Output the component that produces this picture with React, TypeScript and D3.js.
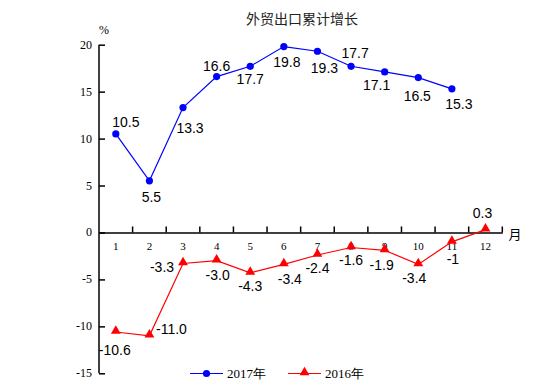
import React, { useRef, useEffect } from 'react';
import * as d3 from 'd3';

// months on the x axis
const months = ['1', '2', '3', '4', '5', '6', '7', '8', '9', '10', '11', '12'];
// cumulative export growth, %
const values2017 = [10.5, 5.5, 13.3, 16.6, 17.7, 19.8, 19.3, 17.7, 17.1, 16.5, 15.3];
const values2016 = [-10.6, -11.0, -3.3, -3.0, -4.3, -3.4, -2.4, -1.6, -1.9, -3.4, -1, 0.3];
const labels2016 = ['-10.6', '-11.0', '-3.3', '-3.0', '-4.3', '-3.4', '-2.4', '-1.6', '-1.9', '-3.4', '-1', '0.3'];
const yTicks = [-15, -10, -5, 0, 5, 10, 15, 20];

// label offsets from each point (layout only)
const off2017 = [[10, -12], [2, 16], [7, 20], [0, -11], [0, 13], [3, 15], [7, 17], [4, -13], [-8, 13], [-1, 18], [7, 15]];
const off2016 = [[-1, 18], [22, -7], [-21, 4], [1, 14], [0, 13], [6, 15], [0, 13], [0, 13], [-3, 15], [-4, 14], [1, 17], [-3, -17]];

const App = () => {
  const ref = useRef<SVGSVGElement>(null);

  useEffect(() => {
    const svg = d3.select(ref.current);
    svg.selectAll('*').remove();

    const x = d3.scaleBand().domain(months).range([99, 502.3]);
    const y = d3.scaleLinear().domain([-15, 20]).range([373.3, 44.7]);
    const cx = (i: number) => (x(months[i]) as number) + x.bandwidth() / 2;
    const serif = '"Liberation Serif", "DejaVu Serif", serif';
    const sans = '"Liberation Sans", Arial, sans-serif';

    // title
    svg.append('text')
      .attr('x', 302).attr('y', 18)
      .attr('text-anchor', 'middle').attr('dominant-baseline', 'central')
      .style('font-family', '"Noto Sans CJK SC", sans-serif').style('font-size', '14px')
      .attr('fill', '#222')
      .text('外贸出口累计增长');

    // y axis
    const yAxis = svg.append('g').attr('transform', 'translate(99,0)')
      .call(d3.axisRight(y).tickValues(yTicks).tickSize(6).tickFormat(() => ''));
    yAxis.select('.domain').attr('stroke', '#000').attr('stroke-width', 1.5).attr('d', `M0,${y(20)}V${y(-15)}`);
    yAxis.selectAll('.tick line').attr('stroke', '#000').attr('stroke-width', 1.5);
    svg.selectAll('.ylab').data(yTicks).enter().append('text')
      .attr('x', 92).attr('y', d => y(d))
      .attr('text-anchor', 'end').attr('dominant-baseline', 'central')
      .style('font-family', serif).style('font-size', '12px')
      .text(d => d);
    svg.append('text').attr('x', 104).attr('y', 30).attr('text-anchor', 'middle')
      .attr('dominant-baseline', 'central')
      .style('font-family', serif).style('font-size', '12px').text('%');

    // x axis on zero line
    const xAxis = svg.append('g').attr('transform', `translate(0,${y(0)})`)
      .call(d3.axisTop(x).tickSize(0).tickFormat(() => ''));
    xAxis.select('.domain').attr('stroke', '#000').attr('stroke-width', 1.5);
    const edges = months.map(m => x(m) as number).concat([502.3]).slice(1);
    svg.selectAll('.xtick').data(edges).enter().append('line')
      .attr('x1', d => d).attr('x2', d => d)
      .attr('y1', y(0)).attr('y2', y(0) - 6)
      .attr('stroke', '#000').attr('stroke-width', 1.5);
    svg.selectAll('.xlab').data(months).enter().append('text')
      .attr('x', (d, i) => cx(i)).attr('y', y(0) + 14)
      .attr('text-anchor', 'middle').attr('dominant-baseline', 'central')
      .style('font-family', serif).style('font-size', '11px')
      .text(d => d);
    svg.append('text').attr('x', 515).attr('y', y(0) + 1)
      .attr('text-anchor', 'middle').attr('dominant-baseline', 'central')
      .style('font-family', '"Noto Sans CJK SC", sans-serif').style('font-size', '13px').text('月');

    const line = d3.line<number>().x((d, i) => cx(i)).y(d => y(d));
    const tri = d3.symbol().type(d3.symbolTriangle).size(42);

    // 2016 series
    svg.append('path').datum(values2016).attr('d', line)
      .attr('fill', 'none').attr('stroke', '#ff0000').attr('stroke-width', 1.2);
    svg.selectAll('.tri').data(values2016).enter().append('path')
      .attr('d', tri).attr('transform', (d, i) => `translate(${cx(i)},${y(d) - 1})`)
      .attr('fill', '#ff0000');
    svg.selectAll('.lab16').data(values2016).enter().append('text')
      .attr('x', (d, i) => cx(i) + off2016[i][0]).attr('y', (d, i) => y(d) + off2016[i][1])
      .attr('text-anchor', 'middle').attr('dominant-baseline', 'central')
      .style('font-family', sans).style('font-size', '14px')
      .text((d, i) => labels2016[i]);

    // 2017 series
    svg.append('path').datum(values2017).attr('d', line)
      .attr('fill', 'none').attr('stroke', '#0000ff').attr('stroke-width', 1.2);
    svg.selectAll('.dot').data(values2017).enter().append('circle')
      .attr('cx', (d, i) => cx(i)).attr('cy', d => y(d)).attr('r', 3.6)
      .attr('fill', '#0000ff');
    svg.selectAll('.lab17').data(values2017).enter().append('text')
      .attr('x', (d, i) => cx(i) + off2017[i][0]).attr('y', (d, i) => y(d) + off2017[i][1])
      .attr('text-anchor', 'middle').attr('dominant-baseline', 'central')
      .style('font-family', sans).style('font-size', '14px')
      .text(d => d.toFixed(1));

    // legend
    const ly = 373.5;
    const leg = [
      { x: 190, color: '#0000ff', label: '2017年', mark: 'circle' },
      { x: 288, color: '#ff0000', label: '2016年', mark: 'tri' },
    ];
    leg.forEach(l => {
      svg.append('line').attr('x1', l.x).attr('x2', l.x + 33).attr('y1', ly).attr('y2', ly)
        .attr('stroke', l.color).attr('stroke-width', 1.2);
      if (l.mark === 'circle') {
        svg.append('circle').attr('cx', l.x + 16.5).attr('cy', ly).attr('r', 3.6).attr('fill', l.color);
      } else {
        svg.append('path').attr('d', tri).attr('transform', `translate(${l.x + 16.5},${ly - 1})`).attr('fill', l.color);
      }
      svg.append('text').attr('x', l.x + 37).attr('y', ly)
        .attr('dominant-baseline', 'central')
        .style('font-family', serif).style('font-size', '13px')
        .text(l.label);
    });
  }, []);

  return (
    <svg ref={ref} width={552} height={389}
      style={{ position: 'absolute', left: 0, top: 0, background: '#fff' }} />
  );
};

export default App;
